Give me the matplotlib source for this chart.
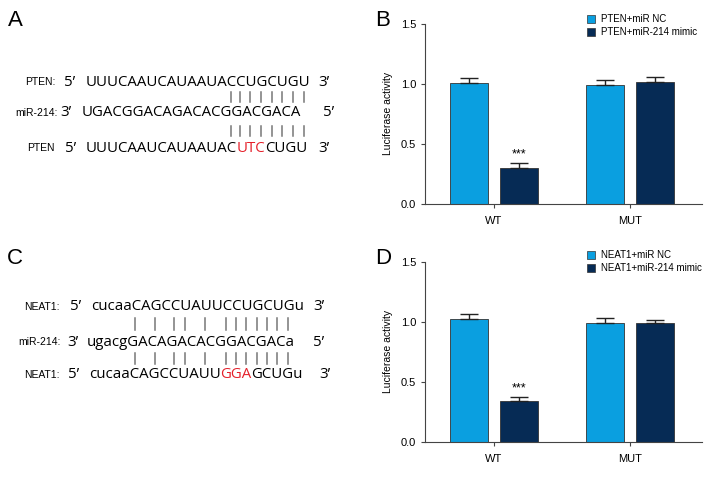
import matplotlib
matplotlib.use("Agg")
import matplotlib.pyplot as plt
import numpy as np
from matplotlib import font_manager
from matplotlib.font_manager import FontProperties, findfont, get_font
from matplotlib.patches import Patch

# ================================
# DATA
# ================================

groups = ["WT", "MUT"]

pten_nc = [1.005, 0.99]
pten_nc_err = [0.045, 0.04]
pten_mimic = [0.30, 1.01]
pten_mimic_err = [0.04, 0.045]

neat1_nc = [1.02, 0.99]
neat1_nc_err = [0.04, 0.04]
neat1_mimic = [0.34, 0.99]
neat1_mimic_err = [0.035, 0.02]

pten_wt = "UUUCAAUCAUAAUACCUGCUGU"
mir214 = "UGACGGACAGACACGGACGACA"
pten_mut = "UUUCAAUCAUAAUACUTCCUGU"
pten_red = [15, 16, 17]
pten_pairs = [14, 15, 16, 17, 18, 19, 20, 21]

neat1_wt = "cucaaCAGCCUAUUCCUGCUGu"
mir214_b = "ugacgGACAGACACGGACGACa"
neat1_mut = "cucaaCAGCCUAUUGGAGCUGu"
neat1_red = [14, 15, 16]
neat1_pairs = [5, 7, 9, 10, 12, 14, 15, 16, 17, 18, 19, 20]

# ================================
# STYLE
# ================================

names = {f.name for f in font_manager.fontManager.ttflist}
cond_font = "Liberation Sans Narrow" if "Liberation Sans Narrow" in names else "Liberation Sans"
seq_font = "Open Sans"

light_blue = "#0a9fe0"
navy = "#062b55"
red = "#e5202a"

W, H = 720, 480
fig = plt.figure(figsize=(7.2, 4.8), dpi=100)

# overlay axes in pixel coordinates for the sequence panels
ov = fig.add_axes([0, 0, 1, 1])
ov.set_xlim(0, W)
ov.set_ylim(H, 0)
ov.axis("off")

seq_prop = FontProperties(family=seq_font, size=10.8)
ft = get_font(findfont(seq_prop))


def glyph(c):
    ft.set_size(seq_prop.get_size_in_points(), fig.dpi)
    return ft.load_char(ord(c))


def adv(s):
    return sum(glyph(c).linearHoriAdvance / 65536 for c in s)


def lsb(c):
    return glyph(c).horiBearingX / 64


def draw_seq(x0, y, seq, red_idx=()):
    # split into chunks, red ones for mutated bases
    chunks = []
    start = 0
    for i in range(1, len(seq) + 1):
        if i == len(seq) or ((i in red_idx) != (start in red_idx)):
            chunks.append((start, seq[start:i], start in red_idx))
            start = i
    pen0 = x0 - lsb(seq[0])
    for st, txt, is_red in chunks:
        ov.text(pen0 + adv(seq[:st]) + lsb(seq[st]), y, txt, ha="left", va="center",
                fontproperties=seq_prop, color=red if is_red else "black")
    # centers of every base
    return [pen0 + adv(seq[:i]) + adv(seq[i]) / 2 for i in range(len(seq))]


def label(x_right, y, s):
    ov.text(x_right, y, s, ha="right", va="center", fontsize=7.5, family=cond_font)


def prime(x, y, s):
    ov.text(x, y, s, ha="left", va="center", fontproperties=seq_prop)


def pair_bars(centers, idx, y0, y1):
    for i in idx:
        ov.plot([centers[i], centers[i]], [y0, y1], color="#777777", lw=1.1)


# ---- panel A ----
label(56, 82, "PTEN:")
prime(64, 82, "5\u2019")
c_top = draw_seq(86, 82, pten_wt)
prime(318, 82, "3\u2019")

label(58, 113, "miR-214:")
prime(60, 113, "3\u2019")
draw_seq(82, 113, mir214)
prime(323, 113, "5\u2019")

label(55, 148, "PTEN")
prime(65, 148, "5\u2019")
draw_seq(86, 148, pten_mut, pten_red)
prime(318, 148, "3\u2019")

pair_bars(c_top, pten_pairs, 92, 102)
pair_bars(c_top, pten_pairs, 126, 136)

# ---- panel C ----
label(60, 307, "NEAT1:")
prime(70, 307, "5\u2019")
c_top2 = draw_seq(91, 307, neat1_wt)
prime(313, 307, "3\u2019")

label(61, 342, "miR-214:")
prime(67, 342, "3\u2019")
draw_seq(87, 342, mir214_b)
prime(313, 342, "5\u2019")

label(60, 375, "NEAT1:")
prime(68, 375, "5\u2019")
draw_seq(89, 375, neat1_mut, neat1_red)
prime(319, 375, "3\u2019")

pair_bars(c_top2, neat1_pairs, 318, 330)
pair_bars(c_top2, neat1_pairs, 353, 364)

# panel letters
for s, x, y in [("A", 15, 20), ("B", 383, 20), ("C", 15, 258), ("D", 383, 258)]:
    ov.text(x, y, s, ha="center", va="center", fontsize=16, family=cond_font)

# ================================
# BAR PANELS
# ================================


def bar_panel(rect, nc, nc_err, mimic, mimic_err, names_leg, leg_xy):
    ax = fig.add_axes(rect)
    x = np.arange(len(groups))
    w = 0.28
    off = 0.185
    ek = dict(ecolor="#222222", elinewidth=1.0, capsize=6.5, capthick=1.0)
    ax.bar(x - off, nc, w, color=light_blue, edgecolor="#333333", linewidth=0.6,
           yerr=[np.zeros(len(nc)), nc_err], error_kw=ek)
    ax.bar(x + off, mimic, w, color=navy, edgecolor="#333333", linewidth=0.6,
           yerr=[np.zeros(len(mimic)), mimic_err], error_kw=ek)
    ax.text(x[0] + off, mimic[0] + mimic_err[0] + 0.02, "***", ha="center", va="bottom",
            fontsize=9, family=cond_font)
    ax.set_xlim(-0.507, 1.53)
    ax.set_ylim(0, 1.5)
    ax.set_yticks([0, 0.5, 1.0, 1.5])
    ax.set_yticklabels(["0.0", "0.5", "1.0", "1.5"], fontsize=8, family=cond_font)
    ax.set_xticks(x)
    ax.set_xticklabels(groups, fontsize=8, family=cond_font)
    ax.tick_params(axis="both", direction="out", length=3, width=0.8, color="#444444")
    ax.tick_params(axis="x", pad=6)
    for sp in ["top", "right"]:
        ax.spines[sp].set_visible(False)
    for sp in ["left", "bottom"]:
        ax.spines[sp].set_color("#444444")
        ax.spines[sp].set_linewidth(0.8)
    ax.set_ylabel("Luciferase activity", fontsize=7.5, family=cond_font)
    ax.yaxis.set_label_coords(-0.116, 0.5)
    handles = [Patch(facecolor=light_blue, edgecolor="#333333", linewidth=0.5, label=names_leg[0]),
               Patch(facecolor=navy, edgecolor="#333333", linewidth=0.5, label=names_leg[1])]
    fig.legend(handles=handles, loc="upper left",
               bbox_to_anchor=(leg_xy[0] / W, 1 - leg_xy[1] / H),
               frameon=False, handlelength=0.85, handleheight=0.85,
               handletextpad=0.6, labelspacing=0.35, borderpad=0, borderaxespad=0,
               prop={"family": cond_font, "size": 7})
    return ax


bar_panel([425 / W, 1 - 204 / H, 277 / W, 180.5 / H],
          pten_nc, pten_nc_err, pten_mimic, pten_mimic_err,
          ["PTEN+miR NC", "PTEN+miR-214 mimic"], (587, 14))

bar_panel([425 / W, 1 - 441.7 / H, 277 / W, 180.2 / H],
          neat1_nc, neat1_nc_err, neat1_mimic, neat1_mimic_err,
          ["NEAT1+miR NC", "NEAT1+miR-214 mimic"], (587, 250))

fig.savefig("out.png", dpi=100)
plt.close()
